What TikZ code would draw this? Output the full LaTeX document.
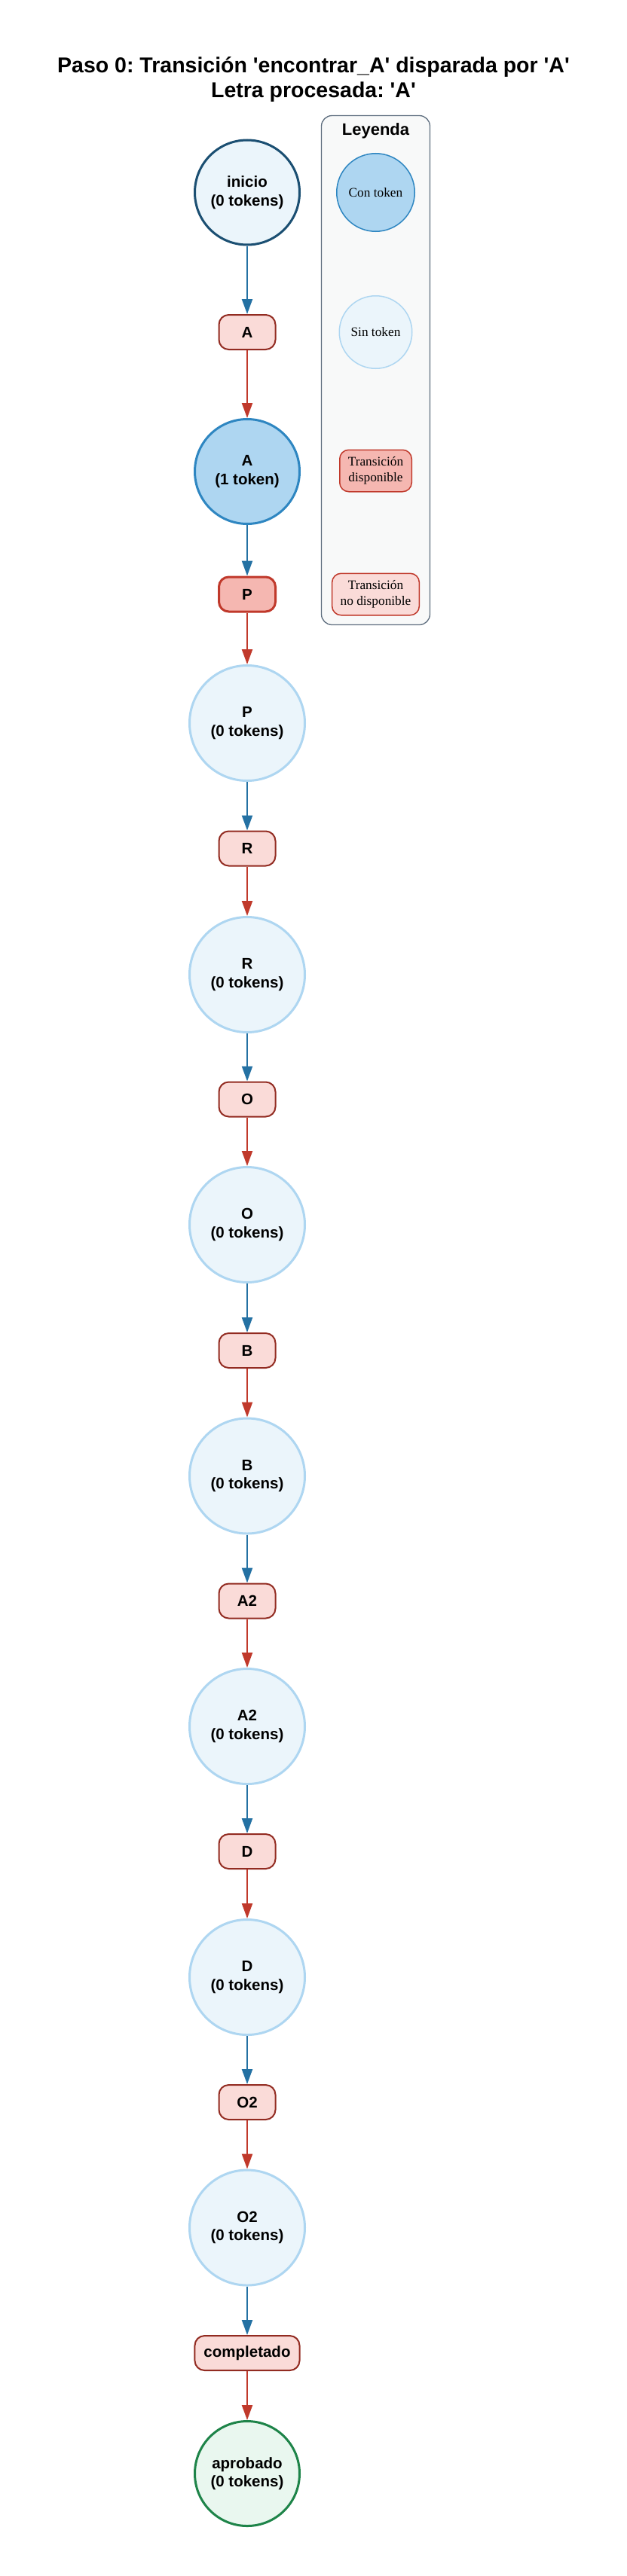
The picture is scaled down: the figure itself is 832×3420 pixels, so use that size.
\documentclass[tikz,border=0pt]{standalone}
\usepackage{fontspec}
\setmainfont{Liberation Sans}[Ligatures=TeXOff]
\newfontfamily\legserif{Liberation Serif}[Ligatures=TeXOff]
\usepackage{xcolor}
\usetikzlibrary{arrows.meta,shapes,positioning}
\frenchspacing

\definecolor{plfill}{HTML}{EBF5FB}
\definecolor{plline}{HTML}{AED6F1}
\definecolor{tokfill}{HTML}{AED6F1}
\definecolor{tokline}{HTML}{2E86C1}
\definecolor{iniline}{HTML}{1B4F72}
\definecolor{finfill}{HTML}{E9F7EF}
\definecolor{finline}{HTML}{1E8449}
\definecolor{trfill}{HTML}{FADBD8}
\definecolor{trline}{HTML}{922B21}
\definecolor{onfill}{HTML}{F5B7B1}
\definecolor{online}{HTML}{C0392B}
\definecolor{arcin}{HTML}{2471A3}
\definecolor{arcout}{HTML}{C0392B}
\definecolor{legfill}{HTML}{F8F9F9}
\definecolor{legline}{HTML}{5D6D7E}

\tikzset{
  lbl/.style={font=\bfseries\fontsize{20.5}{24.5}\selectfont, align=center},
  place/.style={lbl, circle, draw=plline, fill=plfill, line width=3pt, minimum size=153pt, inner sep=0pt},
  placesm/.style={place, minimum size=139pt},
  trans/.style={lbl, draw=trline, fill=trfill, rounded corners=13pt, line width=2pt, minimum width=75pt, minimum height=46pt, inner xsep=12pt, inner ysep=0pt},
  transon/.style={trans, draw=online, fill=onfill, line width=3pt},
  arcpt/.style={->, >={Triangle[length=20pt,width=14pt]}, line width=2.2pt, color=arcin},
  arctp/.style={arcpt, color=arcout},
  legtxt/.style={font=\legserif\fontsize{17.3}{21}\selectfont, align=center, inner sep=0pt}
}

\begin{document}
\begin{tikzpicture}[x=1pt, y=-1pt]
        \fill[white] (0,0) rectangle (832,3420);
        \useasboundingbox (0,0) rectangle (832,3420);

        \node[font=\bfseries\fontsize{28.5}{33}\selectfont, anchor=base] (Tit1) at (416,97) {Paso 0: Transición 'encontrar\_A' disparada por 'A'};
        \node[font=\bfseries\fontsize{28.5}{33}\selectfont, anchor=base] (Tit2) at (416,130) {Letra procesada: 'A'};

        \node[draw=legline, fill=legfill, rounded corners=14pt, line width=1.3pt, minimum width=144pt, minimum height=676pt, inner sep=0pt] (Leg) at (498.5,491.5) {};
        \node[font=\bfseries\fontsize{22}{26}\selectfont, anchor=base] (LegT) at (498.5,180) {Leyenda};
        \node[legtxt, circle, draw=tokline, fill=tokfill, line width=1.5pt, minimum size=103.5pt] (L1) at (498.5,255.5) {Con token};
        \node[legtxt, circle, draw=plline, fill=plfill, line width=1.5pt, minimum size=96.5pt] (L2) at (498.5,441) {Sin token};
        \node[legtxt, draw=online, fill=onfill, rounded corners=12pt, line width=1.5pt, minimum width=95.5pt, minimum height=55.5pt, inner xsep=11pt] (L3) at (498.5,625) {Transición\\disponible};
        \node[legtxt, draw=online, fill=trfill, rounded corners=12pt, line width=1.5pt, minimum width=95.5pt, minimum height=55.5pt, inner xsep=11pt] (L4) at (498.5,789) {Transición\\no disponible};

        \node[placesm, draw=iniline] (Pini) at (328,255.5) {inicio\\(0 tokens)};
        \node[trans] (TA) at (328,441) {A};
        \node[placesm, draw=tokline, fill=tokfill] (PA) at (328,626) {A\\(1 token)};
        \node[transon] (TP) at (328,789) {P};
        \node[place] (PP) at (328,960) {P\\(0 tokens)};
        \node[trans] (TR) at (328,1126.5) {R};
        \node[place] (PR) at (328,1294) {R\\(0 tokens)};
        \node[trans] (TO) at (328,1459.5) {O};
        \node[place] (PO) at (328,1626) {O\\(0 tokens)};
        \node[trans] (TB) at (328,1793) {B};
        \node[place] (PB) at (328,1959.5) {B\\(0 tokens)};
        \node[trans] (TA2) at (328,2125.5) {A2};
        \node[place] (PA2) at (328,2292) {A2\\(0 tokens)};
        \node[trans] (TD) at (328,2458) {D};
        \node[place] (PD) at (328,2625) {D\\(0 tokens)};
        \node[trans] (TO2) at (328,2791) {O2};
        \node[place] (PO2) at (328,2957.5) {O2\\(0 tokens)};
        \node[trans] (Tcomp) at (328,3124) {completado};
        \node[placesm, draw=finline, fill=finfill] (Papr) at (328,3284) {aprobado\\(0 tokens)};

        \draw[arcpt] (Pini) to (TA);
        \draw[arctp] (TA) to (PA);
        \draw[arcpt] (PA) to (TP);
        \draw[arctp] (TP) to (PP);
        \draw[arcpt] (PP) to (TR);
        \draw[arctp] (TR) to (PR);
        \draw[arcpt] (PR) to (TO);
        \draw[arctp] (TO) to (PO);
        \draw[arcpt] (PO) to (TB);
        \draw[arctp] (TB) to (PB);
        \draw[arcpt] (PB) to (TA2);
        \draw[arctp] (TA2) to (PA2);
        \draw[arcpt] (PA2) to (TD);
        \draw[arctp] (TD) to (PD);
        \draw[arcpt] (PD) to (TO2);
        \draw[arctp] (TO2) to (PO2);
        \draw[arcpt] (PO2) to (Tcomp);
        \draw[arctp] (Tcomp) to (Papr);
    \end{tikzpicture}
\end{document}
